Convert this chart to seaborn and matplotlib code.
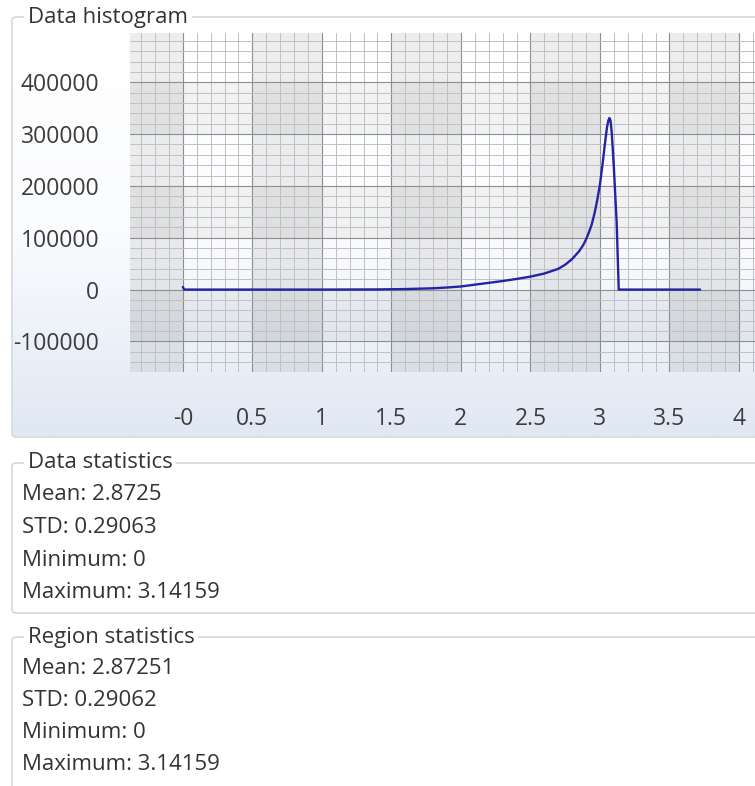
import numpy as np
import pandas as pd
import seaborn as sns
import matplotlib.pyplot as plt
from matplotlib.patches import FancyBboxPatch
from matplotlib.colors import LinearSegmentedColormap
from matplotlib.ticker import MultipleLocator, FixedLocator, FixedFormatter

### data
hist_x = [0.0, 0.01, 0.5, 1.0, 1.4, 1.6, 1.8, 1.9, 2.0, 2.1, 2.2, 2.3, 2.4,
          2.5, 2.6, 2.7, 2.75, 2.8, 2.85, 2.88, 2.9, 2.92, 2.94, 2.96, 2.98,
          3.0, 3.02, 3.035, 3.05, 3.06, 3.068, 3.076, 3.085, 3.1, 3.12,
          3.135, 3.2, 3.5, 3.72]
hist_y = [5000, 0, 0, 0, 300, 1000, 2500, 4000, 6000, 9500, 13000, 16500,
          20500, 25000, 31000, 40000, 48000, 59000, 74000, 86000, 97000,
          110000, 125000, 146000, 172000, 203000, 245000, 280000, 312000,
          326000, 331000, 326000, 302000, 235000, 130000, 0, 0, 0, 0]

x_ticks = [0, 0.5, 1, 1.5, 2, 2.5, 3, 3.5, 4]
x_labels = ["-0", "0.5", "1", "1.5", "2", "2.5", "3", "3.5", "4"]
y_ticks = [-100000, 0, 100000, 200000, 300000, 400000]
y_labels = ["-100000", "0", "100000", "200000", "300000", "400000"]

data_stats = ["Mean: 2.8725", "STD: 0.29063", "Minimum: 0", "Maximum: 3.14159"]
region_stats = ["Mean: 2.87251", "STD: 0.29062", "Minimum: 0", "Maximum: 3.14159"]

### style
sns.set_style("white")
plt.rcParams["font.family"] = ["Open Sans", "DejaVu Sans"]
txt_color = "#333333"
border = "#d3d8dd"
fs = 16
tick_fs = 16.5

fig = plt.figure(figsize=(7.55, 7.86), dpi=100)

# background layer in pixel coordinates
bg = fig.add_axes([0, 0, 1, 1], zorder=0)
bg.set_xlim(0, 755)
bg.set_ylim(786, 0)
bg.axis("off")

grad = LinearSegmentedColormap.from_list("g", ["#ffffff", "#fbfcfe", "#e0e8f4"])
bg.imshow(np.linspace(0, 1, 200).reshape(-1, 1), cmap=grad, aspect="auto",
          extent=(13, 760, 436, 18), zorder=0)

boxes = [(12, 17, 437), (12, 463, 613), (12, 637, 800)]
titles = ["Data histogram", "Data statistics", "Region statistics"]
for (bx, top, bot), title in zip(boxes, titles):
    bg.add_patch(FancyBboxPatch((bx, top), 760, bot - top,
                                boxstyle="round,pad=0,rounding_size=4",
                                fc="none", ec=border, lw=1.2, zorder=1))
    bg.text(28, top, title, ha="left", va="center", fontsize=fs,
            color=txt_color, zorder=2,
            bbox=dict(fc="white", ec="none", pad=2.5))

for i, s in enumerate(data_stats):
    bg.text(22, 495 + i * 32.5, s, ha="left", va="center", fontsize=fs,
            color=txt_color)
for i, s in enumerate(region_stats):
    bg.text(22, 669 + i * 32, s, ha="left", va="center", fontsize=fs,
            color=txt_color)

### histogram chart
ax = fig.add_axes([130 / 755, 1 - 372 / 786, 625 / 755, 339 / 786], zorder=1)
ax.set_facecolor("none")
ax.set_xlim(-0.38, 4.115)
ax.set_ylim(-159000, 495000)

# alternating shading bands
for i in range(len(x_ticks) - 1):
    if i % 2 == 0:
        ax.axvspan(x_ticks[i] - 0.5, x_ticks[i], color="black", alpha=0.065,
                   lw=0, zorder=0)
ax.axvspan(x_ticks[-1] - 0.5, x_ticks[-1], color="black", alpha=0.065, lw=0,
           zorder=0)
for i in range(len(y_ticks) - 1):
    if i % 2 == 0:
        ax.axhspan(y_ticks[i], y_ticks[i + 1], color="black", alpha=0.045,
                   lw=0, zorder=0)

sns.lineplot(x=hist_x, y=hist_y, ax=ax, color="#2424a0", lw=1.7, zorder=5)

ax.xaxis.set_major_locator(FixedLocator(x_ticks))
ax.xaxis.set_major_formatter(FixedFormatter(x_labels))
ax.yaxis.set_major_locator(FixedLocator(y_ticks))
ax.yaxis.set_major_formatter(FixedFormatter(y_labels))
ax.xaxis.set_minor_locator(MultipleLocator(0.1))
ax.yaxis.set_minor_locator(MultipleLocator(20000))

ax.grid(which="major", color="#8e8e8e", lw=0.8, zorder=1)
ax.grid(which="minor", color="#c0c0c0", lw=0.7, zorder=1)
ax.set_axisbelow(True)
for sp in ax.spines.values():
    sp.set_visible(False)

ax.tick_params(axis="x", which="major", length=13, width=0.8, color="#8e8e8e",
               pad=12, labelsize=tick_fs, labelcolor="#3c3c3c")
ax.tick_params(axis="x", which="minor", length=9, width=0.7, color="#c0c0c0")
ax.tick_params(axis="y", which="major", length=9, width=0.8, color="#8e8e8e",
               pad=13, labelsize=tick_fs, labelcolor="#3c3c3c")
ax.tick_params(axis="y", which="minor", length=7, width=0.7, color="#c0c0c0")
ax.set(xlabel="", ylabel="")

fig.savefig("out.png", dpi=100)
